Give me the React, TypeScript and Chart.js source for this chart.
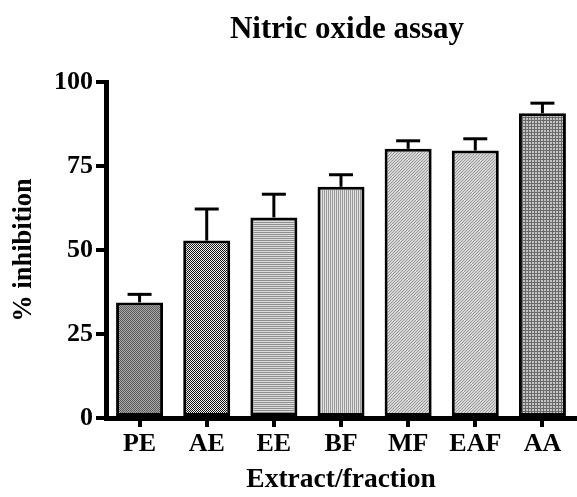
import React, { useEffect, useRef } from "react";
import { Chart, registerables } from "chart.js";

Chart.register(...registerables);

const categories = ["PE", "AE", "EE", "BF", "MF", "EAF", "AA"];
const inhibition = [34.4, 52.8, 59.7, 68.8, 80.1, 79.6, 90.7];
const sem = [2.4, 9.4, 6.9, 3.6, 2.4, 3.5, 3.0];
const yTicks = [0, 25, 50, 75, 100];
const chartTitle = "Nitric oxide assay";
const xTitle = "Extract/fraction";
const yTitle = "% inhibition";

const FONT = "'Liberation Serif', 'Times New Roman', serif";

function makePattern(kind: string): CanvasPattern | string {
  const c = document.createElement("canvas");
  const ctx = c.getContext("2d");
  if (!ctx) return "#999";
  const px = (x: number, y: number, col: string) => {
    ctx.fillStyle = col;
    ctx.fillRect(x, y, 1, 1);
  };
  if (kind === "dots") {
    c.width = 2; c.height = 2;
    px(0, 0, "#5a5a5a"); px(1, 1, "#5a5a5a");
    px(1, 0, "#a8a8a8"); px(0, 1, "#a8a8a8");
  } else if (kind === "checker") {
    c.width = 2; c.height = 2;
    px(0, 0, "#111"); px(1, 1, "#111");
    px(1, 0, "#f4f4f4"); px(0, 1, "#f4f4f4");
  } else if (kind === "hlines") {
    c.width = 1; c.height = 2;
    px(0, 0, "#8e8e8e"); px(0, 1, "#dcdcdc");
  } else if (kind === "vlines") {
    c.width = 2; c.height = 1;
    px(0, 0, "#9a9a9a"); px(1, 0, "#e2e2e2");
  } else if (kind === "diag") {
    c.width = 3; c.height = 3;
    for (let y = 0; y < 3; y++)
      for (let x = 0; x < 3; x++) px(x, y, (x + y) % 3 === 0 ? "#9a9a9a" : "#d6d6d6");
  } else if (kind === "grid") {
    c.width = 3; c.height = 3;
    for (let y = 0; y < 3; y++)
      for (let x = 0; x < 3; x++) px(x, y, x === 0 || y === 0 ? "#6a6a6a" : "#c4c4c4");
  }
  const p = ctx.createPattern(c, "repeat");
  return p || "#999";
}

const patternKinds = ["dots", "checker", "hlines", "vlines", "diag", "diag", "grid"];

const errorBarPlugin = {
  id: "errorBars",
  afterDatasetsDraw(chart: any) {
    const meta = chart.getDatasetMeta(0);
    const yScale = chart.scales.y;
    const ctx = chart.ctx;
    ctx.save();
    ctx.strokeStyle = "#000";
    ctx.lineWidth = 3;
    ctx.lineCap = "butt";
    meta.data.forEach((bar: any, i: number) => {
      const x = bar.x;
      const yTop = yScale.getPixelForValue(inhibition[i] + sem[i]);
      const yBar = bar.y;
      ctx.beginPath();
      ctx.moveTo(x, yBar);
      ctx.lineTo(x, yTop);
      ctx.stroke();
      ctx.beginPath();
      ctx.moveTo(x - 12, yTop);
      ctx.lineTo(x + 12, yTop);
      ctx.stroke();
    });
    ctx.restore();
  },
};

const titlePlugin = {
  id: "customTitle",
  afterDraw(chart: any) {
    const ctx = chart.ctx;
    const area = chart.chartArea;
    ctx.save();
    ctx.font = `bold 31px ${FONT}`;
    ctx.fillStyle = "#000";
    ctx.textAlign = "center";
    ctx.textBaseline = "alphabetic";
    ctx.fillText(chartTitle, (area.left + area.right) / 2 + 6, 38);
    ctx.restore();
  },
};

export default function App() {
  const ref = useRef<HTMLCanvasElement | null>(null);
  useEffect(() => {
    if (!ref.current) return;
    const chart = new Chart(ref.current, {
      type: "bar",
      data: {
        labels: categories,
        datasets: [
          {
            data: inhibition,
            backgroundColor: patternKinds.map((k) => makePattern(k)) as any,
            borderColor: "#000",
            borderWidth: 3,
            borderSkipped: false,
            categoryPercentage: 1,
            barPercentage: 0.7,
          },
        ],
      },
      options: {
        responsive: false,
        animation: false,
        layout: { padding: { top: 82, right: 1, left: 0, bottom: 0 } },
        plugins: { legend: { display: false }, tooltip: { enabled: false }, title: { display: false } },
        scales: {
          x: {
            grid: {
              offset: false,
              drawOnChartArea: false,
              drawTicks: true,
              tickLength: 9,
              lineWidth: 4,
              color: "#000",
            },
            border: { display: true, width: 5, color: "#000" },
            ticks: { color: "#000", font: { family: FONT, size: 26, weight: "bold" }, padding: 2 },
            title: {
              display: true,
              text: xTitle,
              color: "#000",
              font: { family: FONT, size: 27.5, weight: "bold" },
              padding: { top: 0, bottom: 1 },
            },
            afterFit: (s: any) => {
              s.height = 79;
            },
          },
          y: {
            min: 0,
            max: 100,
            afterBuildTicks: (s: any) => {
              s.ticks = yTicks.map((v) => ({ value: v }));
            },
            grid: {
              drawOnChartArea: false,
              drawTicks: true,
              tickLength: 10,
              lineWidth: 4,
              color: "#000",
            },
            border: { display: true, width: 5, color: "#000" },
            ticks: { color: "#000", font: { family: FONT, size: 26, weight: "bold" }, padding: 3 },
            title: {
              display: true,
              text: yTitle,
              color: "#000",
              font: { family: FONT, size: 26.5, weight: "bold" },
              padding: { top: 8, bottom: 0 },
            },
            afterFit: (s: any) => {
              s.width = 106;
            },
          },
        },
      },
      plugins: [errorBarPlugin, titlePlugin],
    });
    return () => chart.destroy();
  }, []);
  return (
    <div style={{ position: "fixed", left: 0, top: 0, width: 577, height: 497, background: "#fff" }}>
      <canvas ref={ref} width={577} height={497} style={{ width: 577, height: 497, display: "block" }} />
    </div>
  );
}
